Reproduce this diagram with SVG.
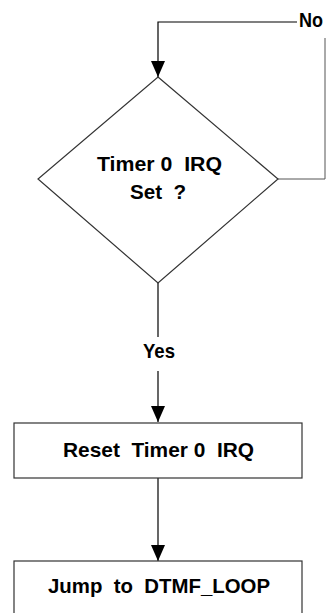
<svg xmlns="http://www.w3.org/2000/svg" width="326" height="613" viewBox="0 0 326 613">
<style>
text{font-family:"Liberation Sans",Arial,sans-serif;font-weight:bold;font-size:21px;fill:#000;white-space:pre}
.c{text-anchor:middle}
.ln{stroke:#000;stroke-width:1.2;fill:none}
.gl{stroke:#555;stroke-width:1;fill:none}
.sh{stroke:#333;stroke-width:1.2;fill:#fff}
</style>
<g id="connectors">
<path class="ln" d="M297,22 H158 V77"/>
<path d="M151,61 L165,61 L158,77 Z" fill="#000"/>
<path class="gl" d="M278,179 H325 V38"/>
<path class="ln" d="M158,283 V337"/>
<path class="ln" d="M158,371 V422"/>
<path d="M151,406 L165,406 L158,422 Z" fill="#000"/>
<path class="ln" d="M158,478 V561"/>
<path d="M151,545 L165,545 L158,561 Z" fill="#000"/>
<text x="299" y="27" textLength="24" lengthAdjust="spacingAndGlyphs">No</text>
<text x="143" y="358" textLength="32" lengthAdjust="spacingAndGlyphs">Yes</text>
</g>
<g id="decision">
<path class="sh" d="M158,77 L278,179 L158,283 L38,179 Z"/>
<text x="97" y="171" textLength="125" lengthAdjust="spacingAndGlyphs">Timer 0  IRQ</text>
<text x="130" y="199" textLength="56" lengthAdjust="spacingAndGlyphs">Set  ?</text>
</g>
<g id="reset">
<rect class="sh" x="14" y="423" width="288" height="55"/>
<text x="63" y="456.5" textLength="191" lengthAdjust="spacingAndGlyphs">Reset  Timer 0  IRQ</text>
</g>
<g id="jump">
<rect class="sh" x="14" y="561" width="288" height="60"/>
<text x="48" y="593" textLength="222" lengthAdjust="spacingAndGlyphs">Jump  to  DTMF_LOOP</text>
</g>
</svg>
